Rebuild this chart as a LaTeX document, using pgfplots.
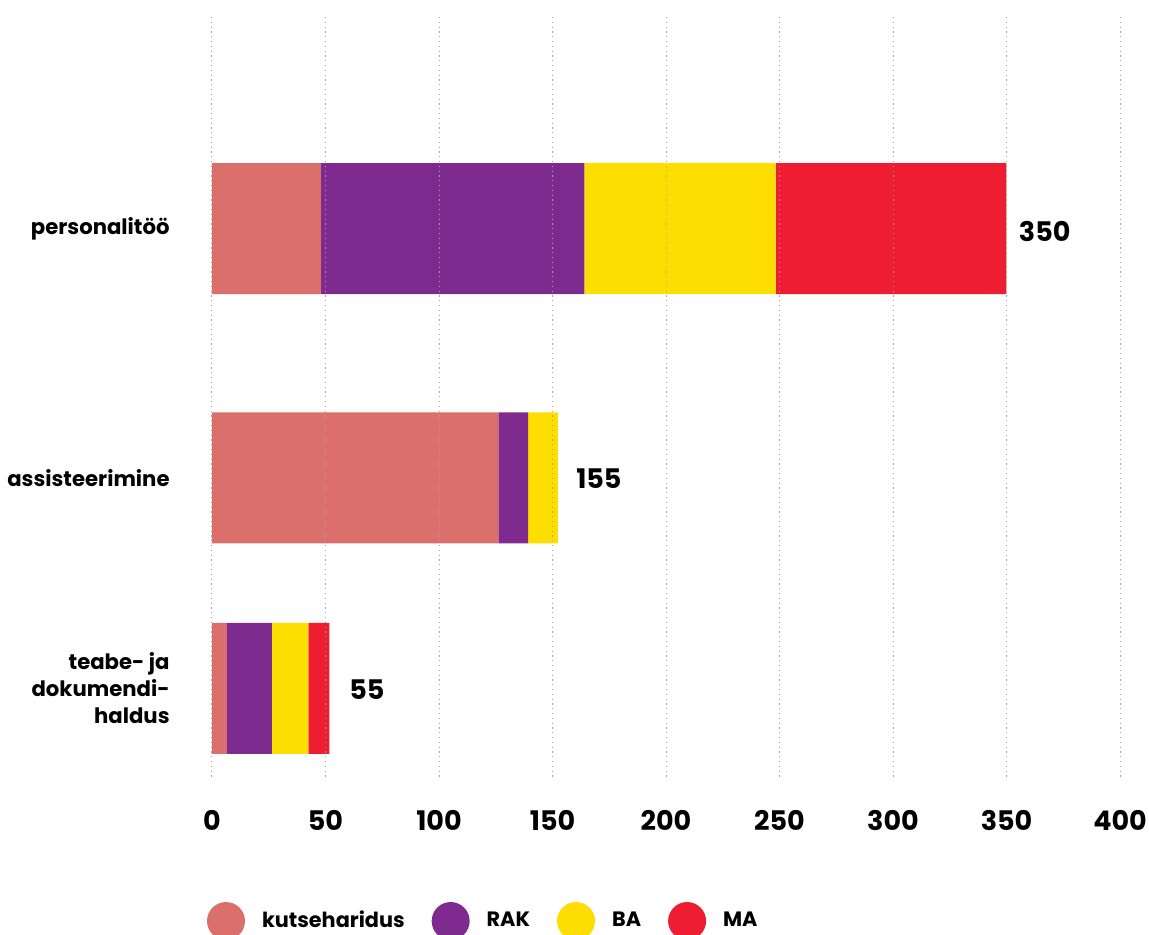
\documentclass[border=0pt]{standalone}
\usepackage{pgfplots}
\pgfplotsset{compat=1.18}
\usepackage{pgfplotstable}
\usepackage{fontspec}
\setmainfont{Poppins}
\definecolor{ckutse}{HTML}{DB6F6C}
\definecolor{crak}{HTML}{7E2A8E}
\definecolor{cba}{HTML}{FEDD00}
\definecolor{cma}{HTML}{EE1D32}
\pgfplotstableread{
y x
228.5 48
477.8 126.1
688.4 6.6
}\kutse
\pgfplotstableread{
y x
228.5 116
477.8 13.2
688.4 19.8
}\rak
\pgfplotstableread{
y x
228.5 84.3
477.8 13.1
688.4 16.1
}\ba
\pgfplotstableread{
y x
228.5 101.6
477.8 0
688.4 9.2
}\ma
\pgfplotstableread{
y x label
231 350 350
479 155 155
690 55 55
}\totals
\pgfplotsset{common/.style={
  at={(0,0)}, anchor=south west,
  scale only axis, width=454pt, height=381.5pt,
  xmin=0, xmax=400, ymin=17, ymax=780, y dir=reverse,
  clip=false}}
\begin{document}
\begin{tikzpicture}
\useasboundingbox (-106pt,-77pt) rectangle (468.5pt,390pt);
\begin{axis}[
  common,
  xbar stacked, bar width=131,
  axis on top,
  axis line style={draw=none}, major tick length=0pt,
  xtick={0,50,...,400},
  xmajorgrids, grid style={gray!70, line width=0.5pt, dash pattern=on 0.6pt off 1.8pt},
  ytick={228.5,477.8,688.4},
  yticklabels={personalitöö,assisteerimine,{teabe- ja\\dokumendi-\\haldus}},
  yticklabel style={align=right, font=\fontsize{10.6}{13.5}\selectfont\bfseries, inner sep=0pt, xshift=-21pt},
  xticklabel style={font=\fontsize{13.5}{15}\selectfont\bfseries, inner sep=0pt, yshift=-15pt},
  /pgf/number format/assume math mode=true,
  legend style={draw=none, fill=none, inner sep=0pt, outer sep=0pt,
    at={(axis cs:-2.2,921)}, anchor=west,
    font=\fontsize{10.4}{12}\selectfont\bfseries,
    nodes={inner sep=0pt},
    /tikz/every odd column/.append style={column sep=8.5pt},
    /tikz/every even column/.append style={column sep=13.5pt}},
  legend columns=4,
  legend image code/.code={\path[#1] (9.5pt,0pt) circle (9.5pt);},
]
\addplot[fill=ckutse, draw=none] table[x=x,y=y] {\kutse};
\addplot[fill=crak, draw=none] table[x=x,y=y] {\rak};
\addplot[fill=cba, draw=none] table[x=x,y=y] {\ba};
\addplot[fill=cma, draw=none] table[x=x,y=y] {\ma};
\legend{kutseharidus,RAK,BA,MA}
\end{axis}
\begin{axis}[common, hide axis]
\addplot[draw=none, mark=none, point meta=explicit symbolic,
  nodes near coords,
  every node near coord/.append style={anchor=west, xshift=6pt, font=\fontsize{13.5}{15}\selectfont\bfseries, inner sep=0pt}]
  table[x=x,y=y,meta=label] {\totals};
\end{axis}
\end{tikzpicture}
\end{document}
